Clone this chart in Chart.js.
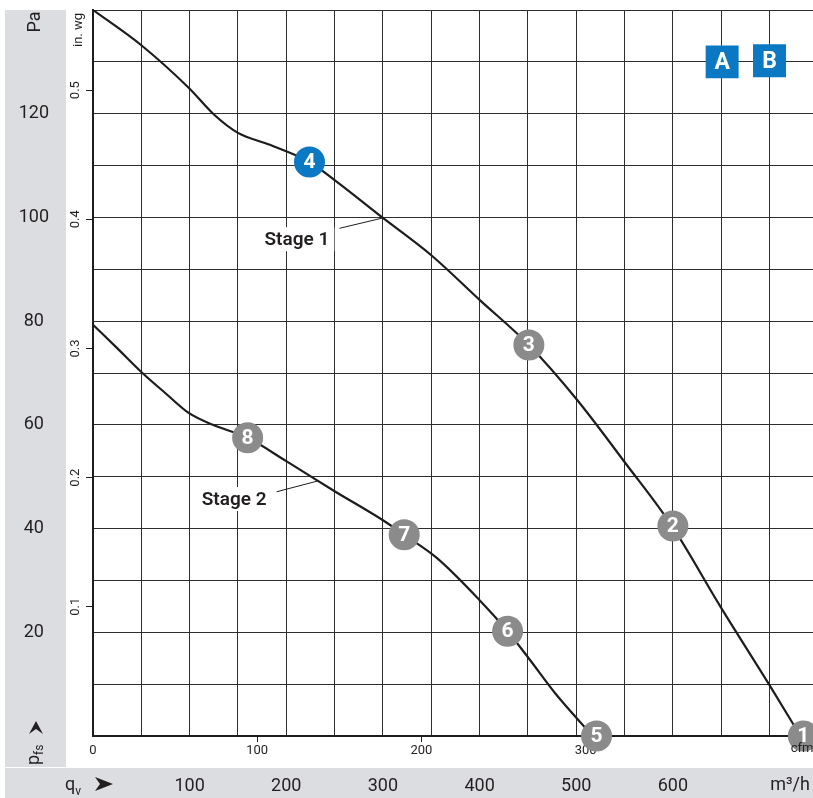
<!DOCTYPE html>
<html>
<head>
<meta charset="utf-8">
<script src="https://cdn.jsdelivr.net/npm/chart.js@4.4.1/dist/chart.umd.min.js"></script>
<style>
  html, body { margin: 0; padding: 0; background: #fff; }
  #wrap { position: relative; width: 813px; height: 798px; }
</style>
</head>
<body>
<div id="wrap"><canvas id="fanChart"></canvas></div>
<script>
// KENNLINIEN (m³/h -> Pa)
const stage1Flow = [0, 50, 99, 126, 150, 183, 224, 250, 300, 350, 400, 451, 501, 551, 599, 650, 700, 732];
const stage1Pressure = [140, 133.2, 125, 119.7, 116.3, 114, 110.7, 107.2, 99.9, 92.7, 84.1, 75.4, 64.8, 52.6, 40.5, 24.7, 9.8, 0];
const stage2Flow = [0, 25, 50, 75, 99, 124, 160, 200, 250, 300, 322, 356, 400, 429, 452, 478, 517];
const stage2Pressure = [79.3, 74.8, 70.2, 66.1, 62.3, 60, 57.5, 53, 47.2, 41.6, 38.8, 34.3, 26.2, 20.2, 14.7, 8.3, 0];

// PONTOS NUMERADOS
const pointLabels = ["1", "2", "3", "4", "5", "6", "7", "8"];
const pointFlow = [735, 600, 451, 224, 521, 429, 322, 160];
const pointPressure = [0, 40.5, 75.4, 110.7, 0, 20.2, 38.8, 57.5];
const pointColors = ["#8b8b8b", "#8b8b8b", "#8b8b8b", "#0a78c2", "#8b8b8b", "#8b8b8b", "#8b8b8b", "#8b8b8b"];

// CAIXAS A / B
const boxLabels = ["A", "B"];
const boxFlow = [651, 700];
const boxPressure = [130, 130.2];

// TICKS
const flowTicks = [100, 200, 300, 400, 500, 600];
const pressureTicks = [20, 40, 60, 80, 100, 120];
const cfmTicks = [0, 100, 200, 300];
const inwgTicks = [0.1, 0.2, 0.3, 0.4, 0.5];

const PA_PER_INWG = 249.089;
const M3H_PER_CFM = 1.699;
const FLOW_MAX = 745;
const PA_MAX = 140;

const GRID = "#2e2e2e";
const INK = "#1d1d1b";
const TXT = "#231f20";
const BAND = "#dcdde0";

// escolher fonte estreita se existir
const pickFont = function () {
  const c = document.createElement("canvas").getContext("2d");
  c.font = "20px sans-serif";
  const base = c.measureText("Stage 120 m³/h").width;
  c.font = "20px 'Liberation Sans Narrow', sans-serif";
  return c.measureText("Stage 120 m³/h").width !== base ? "'Liberation Sans Narrow'" : "Roboto";
};
const FONT = pickFont();
Chart.defaults.font.family = FONT;
Chart.defaults.color = TXT;

const toXY = (xs, ys) => xs.map((x, i) => ({ x: x, y: ys[i] }));

// tamanho fixo para cada eixo
const fitTo = function (size) {
  return function (scale) {
    if (scale.isHorizontal()) scale.height = size;
    else scale.width = size;
    scale.paddingTop = 0;
    scale.paddingBottom = 0;
    scale.paddingLeft = 0;
    scale.paddingRight = 0;
  };
};

const rotText = function (c, text, x, y, font, align) {
  c.save();
  c.translate(x, y);
  c.rotate(-Math.PI / 2);
  c.font = font;
  c.textAlign = align || "center";
  c.textBaseline = "alphabetic";
  c.fillText(text, 0, 0);
  c.restore();
};

const decorPlugin = {
  id: "decor",
  beforeDraw(chart) {
    const c = chart.ctx;
    c.save();
    c.fillStyle = BAND;
    c.fillRect(5, 10, 61, 757);
    c.fillRect(5, 768, 808, 30);
    c.restore();
  },
  afterDatasetsDraw(chart) {
    const c = chart.ctx;
    const xs = chart.scales.x;
    const ys = chart.scales.y;
    c.save();

    // rótulos Stage com fundo branco e linha de ligação
    const stages = [
      { text: "Stage 1", at: [211, 95.8], from: [255, 97.9], to: [300, 99.9] },
      { text: "Stage 2", at: [146, 45.7], from: [190, 47.1], to: [233, 49.2] },
    ];
    c.font = "600 19px " + FONT;
    stages.forEach((s) => {
      const px = xs.getPixelForValue(s.at[0]);
      const py = ys.getPixelForValue(s.at[1]);
      const w = c.measureText(s.text).width;
      c.fillStyle = "#fff";
      c.fillRect(px - w / 2 - 5, py - 12, w + 10, 24);
      c.fillStyle = TXT;
      c.textAlign = "center";
      c.textBaseline = "middle";
      c.fillText(s.text, px, py + 1);
      c.strokeStyle = INK;
      c.lineWidth = 1;
      c.beginPath();
      c.moveTo(xs.getPixelForValue(s.from[0]), ys.getPixelForValue(s.from[1]));
      c.lineTo(xs.getPixelForValue(s.to[0]), ys.getPixelForValue(s.to[1]));
      c.stroke();
    });

    // números nos círculos
    c.fillStyle = "#fff";
    c.textAlign = "center";
    c.textBaseline = "middle";
    c.font = "bold 21px " + FONT;
    chart.getDatasetMeta(0).data.forEach((pt, i) => {
      c.fillText(pointLabels[i], pt.x, pt.y + 1);
    });
    c.font = "bold 23px " + FONT;
    chart.getDatasetMeta(1).data.forEach((pt, i) => {
      c.fillText(boxLabels[i], pt.x, pt.y + 1);
    });
    c.restore();
  },
  afterDraw(chart) {
    const c = chart.ctx;
    c.save();
    c.fillStyle = TXT;
    // textos dos eixos
    rotText(c, "Pa", 40, 22, "18px " + FONT);
    rotText(c, "in. wg", 82, 30, "13px " + FONT);
    c.font = "13px " + FONT;
    c.textAlign = "center";
    c.textBaseline = "middle";
    c.fillText("cfm", 802, 749);
    c.font = "18px " + FONT;
    c.fillText("m³/h", 790, 785);

    // p_fs
    c.save();
    c.translate(39, 765);
    c.rotate(-Math.PI / 2);
    c.textAlign = "left";
    c.textBaseline = "alphabetic";
    c.font = "18px " + FONT;
    c.fillText("p", 0, 0);
    const pw = c.measureText("p").width;
    c.font = "12px " + FONT;
    c.fillText("fs", pw, 4);
    c.restore();

    // q_v
    c.textAlign = "left";
    c.textBaseline = "alphabetic";
    c.font = "18px " + FONT;
    c.fillText("q", 65, 790);
    const qw = c.measureText("q").width;
    c.font = "12px " + FONT;
    c.fillText("v", 65 + qw, 795);

    // setas
    c.beginPath();
    c.moveTo(36, 721);
    c.lineTo(43, 734);
    c.lineTo(36, 729);
    c.lineTo(29, 734);
    c.closePath();
    c.fill();
    c.beginPath();
    c.moveTo(113, 784);
    c.lineTo(95, 777);
    c.lineTo(100, 784);
    c.lineTo(95, 791);
    c.closePath();
    c.fill();
    c.restore();
  },
};

const ctx = document.getElementById("fanChart");
new Chart(ctx, {
  type: "line",
  data: {
    datasets: [
      {
        label: "points",
        data: toXY(pointFlow, pointPressure),
        showLine: false,
        pointRadius: 15.5,
        pointHoverRadius: 15.5,
        pointBackgroundColor: pointColors,
        pointBorderWidth: 0,
        clip: false,
        order: 0,
      },
      {
        label: "boxes",
        data: toXY(boxFlow, boxPressure),
        showLine: false,
        pointStyle: "rect",
        pointRadius: 23.3,
        pointHoverRadius: 23.3,
        pointBackgroundColor: "#0a78c2",
        pointBorderWidth: 0,
        clip: false,
        order: 0,
      },
      {
        label: "Stage 1",
        data: toXY(stage1Flow, stage1Pressure),
        borderColor: INK,
        borderWidth: 2.2,
        pointRadius: 0,
        cubicInterpolationMode: "monotone",
        order: 2,
      },
      {
        label: "Stage 2",
        data: toXY(stage2Flow, stage2Pressure),
        borderColor: INK,
        borderWidth: 2.2,
        pointRadius: 0,
        cubicInterpolationMode: "monotone",
        order: 2,
      },
    ],
  },
  options: {
    responsive: true,
    maintainAspectRatio: false,
    animation: false,
    events: [],
    layout: { autoPadding: false, padding: { left: 0, top: 10, right: 0, bottom: 0 } },
    plugins: { legend: { display: false }, tooltip: { enabled: false }, title: { display: false } },
    scales: {
      x: {
        type: "linear",
        position: "bottom",
        weight: 1,
        min: 0,
        max: FLOW_MAX,
        afterFit: fitTo(30),
        border: { display: false },
        grid: { color: GRID, lineWidth: 1, drawTicks: false },
        ticks: {
          stepSize: 50,
          includeBounds: false,
          autoSkip: false,
          maxRotation: 0,
          padding: 8,
          font: { size: 18 },
          callback: (v) => (flowTicks.includes(v) ? String(v) : ""),
        },
      },
      xc: {
        type: "linear",
        position: "bottom",
        weight: 0,
        min: 0,
        max: FLOW_MAX / M3H_PER_CFM,
        afterFit: fitTo(32),
        border: { display: true, color: INK, width: 2 },
        grid: {
          drawOnChartArea: false,
          tickLength: 6,
          tickColor: (c) => (c.tick && c.tick.value > 0 && cfmTicks.includes(c.tick.value) ? INK : "rgba(0,0,0,0)"),
        },
        ticks: {
          stepSize: 100,
          includeBounds: false,
          autoSkip: false,
          maxRotation: 0,
          padding: 1,
          font: { size: 13 },
          callback: (v) => (cfmTicks.includes(v) ? String(v) : ""),
        },
      },
      y: {
        type: "linear",
        position: "left",
        weight: 1,
        min: 0,
        max: PA_MAX,
        afterFit: fitTo(66),
        border: { display: false },
        grid: { color: GRID, lineWidth: 1, drawTicks: false },
        ticks: {
          stepSize: 10,
          includeBounds: false,
          autoSkip: false,
          crossAlign: "center",
          padding: 17,
          font: { size: 18 },
          callback: (v) => (pressureTicks.includes(v) ? String(v) : ""),
        },
      },
      yin: {
        type: "linear",
        position: "left",
        weight: 0,
        min: 0,
        max: PA_MAX / PA_PER_INWG,
        afterFit: fitTo(27),
        border: { display: true, color: INK, width: 2 },
        grid: {
          drawOnChartArea: false,
          tickLength: 7,
          tickColor: (c) => (c.tick && c.tick.value > 0.05 ? INK : "rgba(0,0,0,0)"),
        },
        ticks: {
          stepSize: 0.1,
          includeBounds: false,
          autoSkip: false,
          minRotation: 90,
          maxRotation: 90,
          crossAlign: "center",
          padding: 1,
          font: { size: 13 },
          callback: (v) => {
            const r = Math.round(v * 10) / 10;
            return inwgTicks.includes(r) ? r.toFixed(1) : "";
          },
        },
      },
    },
  },
  plugins: [decorPlugin],
});
</script>
</body>
</html>
